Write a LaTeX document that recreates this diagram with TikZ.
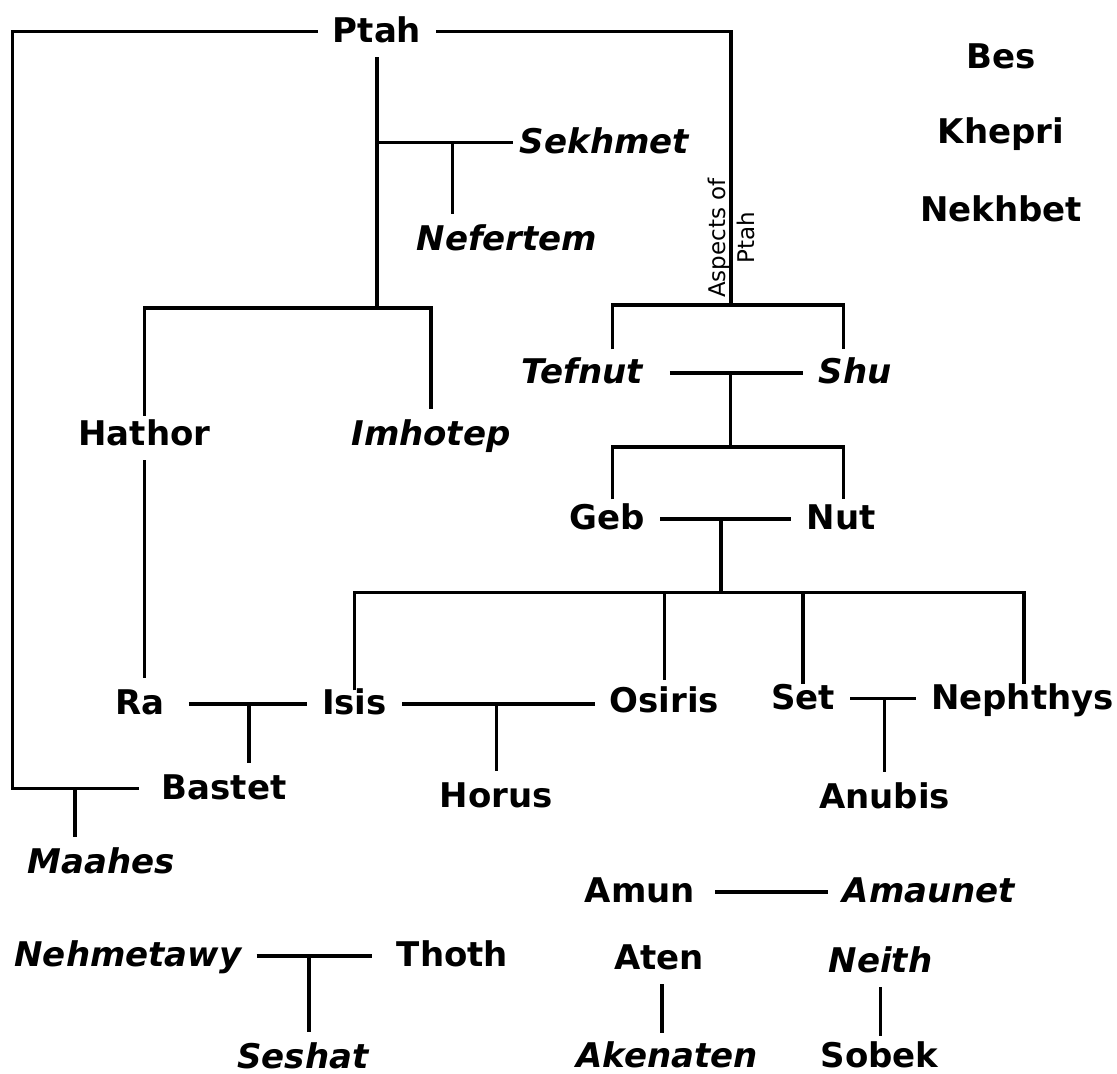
\documentclass[tikz,border=0pt]{standalone}
\usepackage{fontspec}
\setmainfont{DejaVu Sans}[BoldFont={DejaVu Sans Bold},BoldItalicFont={DejaVu Sans Bold Oblique},ItalicFont={DejaVu Sans Oblique}]
\usetikzlibrary{calc}
\tikzset{
  god/.style={font=\fontsize{34}{40}\selectfont\bfseries, text height=25pt, text depth=4pt, inner xsep=15pt, inner ysep=11pt},
  godi/.style={god, font=\fontsize{34}{40}\selectfont\bfseries\itshape},
  low/.style={text depth=0pt, inner ysep=1pt},
  link/.style={line width=3.1pt},
  note/.style={font=\fontsize{23}{29}\selectfont, align=center, rotate=90, inner sep=0pt}
}
\begin{document}
\begin{tikzpicture}[x=1pt,y=-1pt]
\useasboundingbox (0,0) rectangle (1117,1074);
% nodes
\node[god]  (ptah)     at (377,31.5)    {Ptah};
\node[godi] (sekhmet)  at (604.5,142.7) {Sekhmet};
\node[godi] (nefertem) at (507,240)     {Nefertem};
\node[god]  (hathor)   at (144.5,434.5) {Hathor};
\node[godi] (imhotep)  at (431,434.5)   {Imhotep};
\node[godi] (tefnut)   at (582,373)     {Tefnut};
\node[godi] (shu)      at (855,373)     {Shu};
\node[god]  (geb)      at (607.5,519)   {Geb};
\node[god]  (nut)      at (841,519)     {Nut};
\node[god]  (ra)       at (140,704)     {Ra};
\node[god]  (isis)     at (354.5,704)   {Isis};
\node[god]  (osiris)   at (664.5,702)   {Osiris};
\node[god]  (set)      at (803,698.5)   {Set};
\node[god]  (nephthys) at (1022.5,698.5){Nephthys};
\node[god]  (bastet)   at (224,788.5)   {Bastet};
\node[god]  (horus)    at (496.5,797)   {Horus};
\node[god]  (anubis)   at (884.5,797.5) {Anubis};
\node[godi] (maahes)   at (101.5,862.5) {Maahes};
\node[godi] (nehmetawy) at (128,956)    {Nehmetawy};
\node[god]  (thoth)    at (452.5,956)   {Thoth};
\node[godi] (seshat)   at (303,1057.5)  {Seshat};
\node[god]  (amun)     at (640,892)     {Amun};
\node[godi] (amaunet)  at (929,892)     {Amaunet};
\node[god]  (aten)     at (659,958.5)   {Aten};
\node[godi] (neith)    at (880.5,961.5) {Neith};
\node[godi,low] (akenaten) at (667,1054.5)  {Akenaten};
\node[god,low]  (sobek)    at (879.5,1055){Sobek};
\node[god]  (bes)      at (1001,58)     {Bes};
\node[god]  (khepri)   at (1001,133)    {Khepri};
\node[god]  (nekhbet)  at (1001,211)    {Nekhbet};
\node[note] (aspects)  at (731,238)     {Aspects of\\Ptah};
% junction coordinates
\coordinate (pb) at (377,308);
\coordinate (sj) at (377,142.7);
\coordinate (sk) at (452.5,142.7);
\coordinate (aj) at (731,305);
\coordinate (ts) at (730.6,373);
\coordinate (gj) at (730.6,447);
\coordinate (gn) at (721,519);
\coordinate (cj) at (721,592.7);
\coordinate (lc) at (12.5,788.5);
\coordinate (mt) at (75,788.5);
\coordinate (rb) at (249,704);
\coordinate (nt) at (309,956);
% connectors
\draw[link, shorten >=7pt] (ptah.west) -| (lc) -- (bastet.west);
\draw[link] (mt) -- (mt |- maahes.north);
\draw[link] (ptah.south) -- (pb);
\draw[link, shorten >=-8pt] (sj) -- (sekhmet.west);
\draw[link] (sk) -- (sk |- nefertem.north);
\draw[link, shorten <=-7pt] (hathor.north) |- (pb) -| (imhotep.north);
\draw[link] (ptah.east) -| (aj);
\draw[link, shorten <=-2pt, shorten >=-2pt] ($(tefnut.north)+(30.5,0)$) |- (aj) -| ($(shu.north)+(-11.4,0)$);
\draw[link, shorten <=12pt] (tefnut.east) -- (shu.west);
\draw[link] (ts) -- (gj);
\draw[link, shorten <=-6pt, shorten >=-6pt] ($(geb.north)+(5,0)$) |- (gj) -| ($(nut.north)+(2.6,0)$);
\draw[link] (geb.east) -- (nut.west);
\draw[link] (gn) -- (cj);
\draw[link, shorten <=-12pt, shorten >=-11pt] (isis.north) |- (cj) -| ($(nephthys.north)+(1.5,0)$);
\draw[link, shorten >=-4pt] (osiris.north |- cj) -- (osiris.north);
\draw[link, shorten >=-11pt] (set.north |- cj) -- (set.north);
\draw[link] (hathor.south) -- (hathor.south |- ra.north);
\draw[link, shorten <=9pt] (ra.east) -- (isis.west);
\draw[link] (rb) -- (rb |- bastet.north);
\draw[link] (isis.east) -- (isis.east -| osiris.west);
\draw[link] (isis.east -| horus.north) -- (horus.north);
\draw[link] (set.east) -- (nephthys.west);
\draw[link] (set.east -| anubis.north) -- (anubis.north);
\draw[link, shorten >=10pt] (nehmetawy.east) -- (thoth.west);
\draw[link] (nt) -- (nt |- seshat.north);
\draw[link, shorten <=5pt] (amun.east) -- (amaunet.west);
\draw[link, shorten >=8pt] ($(aten.south)+(3,0)$) -- ($(aten.south |- akenaten.north)+(3,0)$);
\draw[link, shorten >=5pt] (neith.south) -- (neith.south |- sobek.north);
\end{tikzpicture}
\end{document}
